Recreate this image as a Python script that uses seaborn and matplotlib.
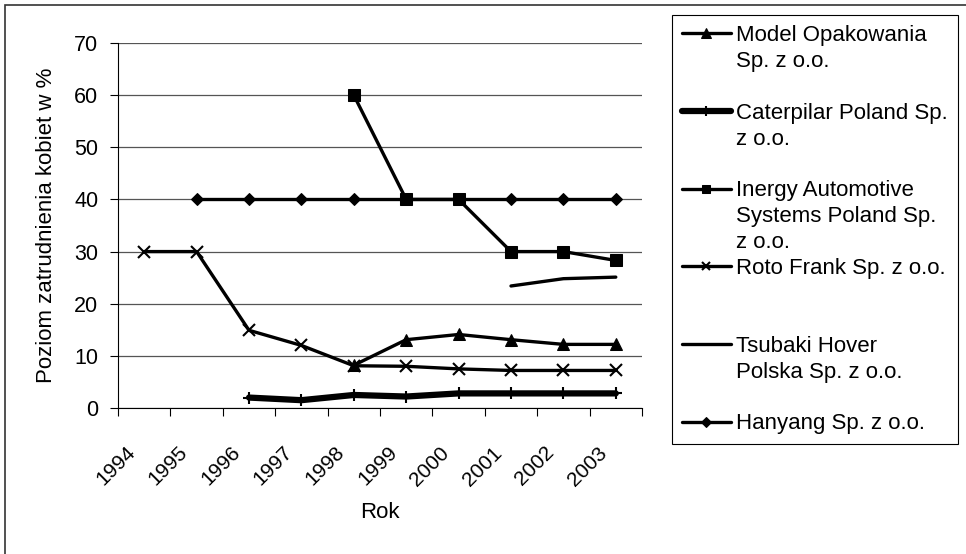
import numpy as np
import pandas as pd
import matplotlib
matplotlib.use("Agg")
import matplotlib.pyplot as plt
import matplotlib.transforms as mtransforms
import seaborn as sns
from matplotlib.lines import Line2D
from matplotlib.patches import Rectangle
from matplotlib.ticker import FixedLocator

nan = np.nan

# ---- data -------------------------------------------------------------
years = ["1994", "1995", "1996", "1997", "1998", "1999", "2000", "2001", "2002", "2003"]

model_opakowania = [nan, nan, nan, nan, 8.2, 13.1, 14.1, 13.1, 12.2, 12.2]
caterpilar = [nan, nan, 2.0, 1.5, 2.5, 2.2, 2.8, 2.8, 2.8, 2.8]
inergy = [nan, nan, nan, nan, 60.0, 40.0, 40.0, 30.0, 30.0, 28.3]
roto_frank = [30.0, 30.0, 14.9, 12.0, 8.1, 8.0, 7.5, 7.2, 7.2, 7.2]
tsubaki = [nan, nan, nan, nan, nan, nan, nan, 23.4, 24.8, 25.1]
hanyang = [nan, 40.0, 40.0, 40.0, 40.0, 40.0, 40.0, 40.0, 40.0, 40.0]

series_names = [
    "Model Opakowania Sp. z o.o.",
    "Caterpilar Poland Sp. z o.o.",
    "Inergy Automotive Systems Poland Sp. z o.o.",
    "Roto Frank Sp. z o.o.",
    "Tsubaki Hover Polska Sp. z o.o.",
    "Hanyang Sp. z o.o.",
]
series_values = [model_opakowania, caterpilar, inergy, roto_frank, tsubaki, hanyang]

# legend text, wrapped as in the original
legend_lines = [
    ["Model Opakowania", "Sp. z o.o.", ""],
    ["Caterpilar Poland Sp.", "z o.o.", ""],
    ["Inergy Automotive", "Systems Poland Sp.", "z o.o."],
    ["Roto Frank Sp. z o.o.", "", ""],
    ["Tsubaki Hover", "Polska Sp. z o.o.", ""],
    ["Hanyang Sp. z o.o."],
]

x_label = "Rok"
y_label = "Poziom zatrudnienia kobiet w %"
y_ticks = [0, 10, 20, 30, 40, 50, 60, 70]

# ---- styles -----------------------------------------------------------
styles = [
    dict(marker="^", markersize=8.5, linewidth=2.4),
    dict(marker="+", markersize=9, markeredgewidth=1.5, linewidth=4.5),
    dict(marker="s", markersize=8, linewidth=2.4),
    dict(marker="x", markersize=8, markeredgewidth=1.5, linewidth=2.4),
    dict(marker=None, linewidth=2.4),
    dict(marker="D", markersize=6, linewidth=2.4),
]

sns.set_theme(style="white")
plt.rcParams["font.family"] = ["Liberation Sans", "DejaVu Sans"]

W, H, DPI = 966, 554, 100
fig = plt.figure(figsize=(W / DPI, H / DPI), dpi=DPI)
fig.patch.set_facecolor("white")
ax = fig.add_axes([118 / W, 1 - 408 / H, (642 - 118) / W, (408 - 43) / H])

pos = np.arange(len(years))
for name, vals, st in zip(series_names, series_values, styles):
    df = pd.DataFrame({"x": pos, "y": vals}).dropna()
    sns.lineplot(data=df, x="x", y="y", ax=ax, color="black", label=name,
                 legend=False, markeredgecolor="black", **st)

ax.set_xlim(-0.5, len(years) - 0.5)
ax.set_ylim(0, 70)
ax.yaxis.set_major_locator(FixedLocator(y_ticks))
ax.set_yticklabels([str(t) for t in y_ticks])
ax.yaxis.grid(True, color="#555555", linewidth=0.9)
ax.xaxis.grid(False)

ax.set_xticks(pos)
ax.set_xticklabels(years)
ax.xaxis.set_minor_locator(FixedLocator(np.arange(-0.5, len(years), 1.0)))
ax.tick_params(axis="x", which="major", length=0, pad=30, labelsize=15, colors="black")
ax.tick_params(axis="x", which="minor", bottom=True, length=5.8, width=0.8, color="black", direction="out")
ax.tick_params(axis="y", which="major", left=True, length=5.8, width=0.8, color="black",
               direction="out", pad=8.5, labelsize=15.5, labelcolor="black")
shift = mtransforms.ScaledTranslation(-12 / DPI, 0, fig.dpi_scale_trans)
for lab in ax.get_xticklabels():
    lab.set_rotation(45)
    lab.set_ha("right")
    lab.set_va("center")
    lab.set_rotation_mode("anchor")
    lab.set_transform(lab.get_transform() + shift)

for s in ["top", "right"]:
    ax.spines[s].set_visible(False)
for s in ["left", "bottom"]:
    ax.spines[s].set_color("black")
    ax.spines[s].set_linewidth(0.8)

ax.set_xlabel(x_label, fontsize=16, color="black", labelpad=9)
ax.set_ylabel(y_label, fontsize=16, color="black", labelpad=12)

# ---- legend -----------------------------------------------------------
h_by_label = {l.get_label(): l for l in ax.get_lines()}
handles, labels = [], []
blank = Line2D([], [], color="none")
for name, lines in zip(series_names, legend_lines):
    src = h_by_label[name]
    h = Line2D([], [], color="black", linewidth=src.get_linewidth(),
               marker=src.get_marker(), markersize=src.get_markersize() * 0.8,
               markeredgewidth=src.get_markeredgewidth(), markeredgecolor="black")
    for i, t in enumerate(lines):
        handles.append(h if i == 0 else blank)
        labels.append(t)

leg = fig.legend(handles, labels, loc="upper left",
                 bbox_to_anchor=(672 / W, 1 - 15 / H), bbox_transform=fig.transFigure,
                 frameon=True, fancybox=False, framealpha=1, edgecolor="black",
                 borderaxespad=0, fontsize=16, handlelength=2.2, handletextpad=0.22,
                 labelspacing=0.22, borderpad=0.45)
leg.get_frame().set_linewidth(0.8)
for t in leg.get_texts():
    t.set_color("black")

# outer chart-area border (cut by the image edge on the right and bottom)
fig.patches.append(Rectangle((5 / W, -0.2), 1.5, 1 - 5 / H + 0.2, transform=fig.transFigure,
                             fill=False, edgecolor="#333333", linewidth=1.2))

fig.savefig("out.png", dpi=DPI, facecolor="white")
